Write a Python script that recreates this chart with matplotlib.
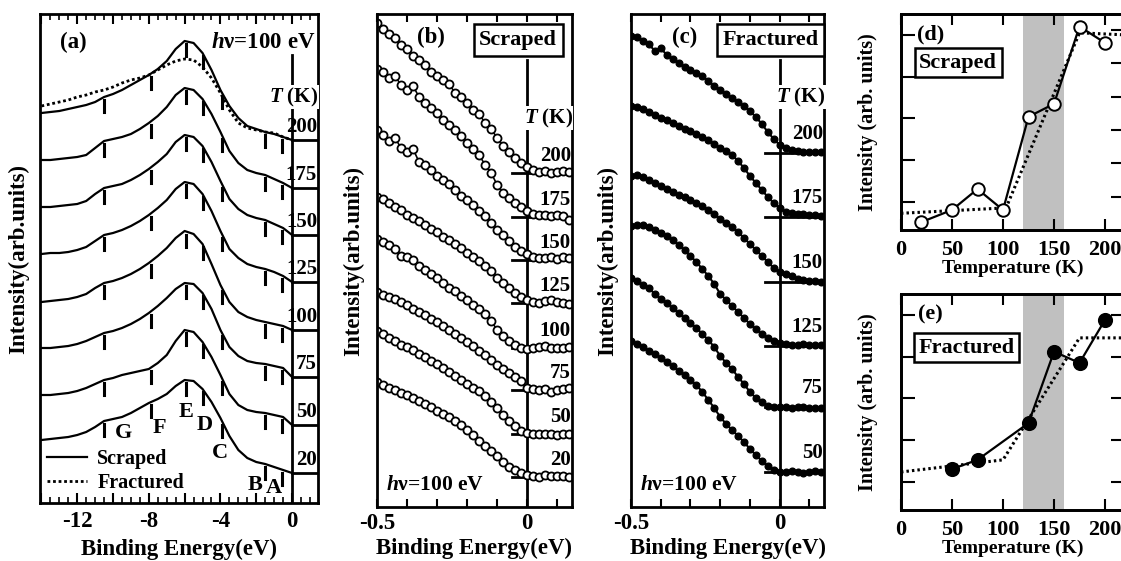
import numpy as np
import matplotlib
matplotlib.use('Agg')
import matplotlib.pyplot as plt
from matplotlib.ticker import FixedLocator, FuncFormatter, MultipleLocator

# ---------------- DATA ----------------
# Panel (a): valence-band spectra, heights above each baseline (arb. units)
E_a = np.linspace(-14.0, 0.0, 29)
temps_a = [200, 175, 150, 125, 100, 75, 50, 20]
offsets_a = [363, 315, 268, 221, 173, 126, 78, 30]
spec_a_200 = [27, 28, 29, 31, 33, 35, 38, 43, 46, 50, 55, 60, 65, 71, 79, 91, 99, 97, 87, 70, 50, 34, 22, 14, 11, 8, 6, 3, 0]
spec_a_175 = [28, 28, 29, 30, 31, 33, 40, 47, 49, 51, 54, 59, 65, 72, 81, 93, 100, 98, 89, 74, 56, 37, 25, 18, 15, 13, 9, 5, 0]
spec_a_150 = [28, 28, 29, 30, 31, 34, 41, 47, 49, 51, 55, 60, 66, 73, 81, 93, 100, 98, 89, 73, 54, 36, 26, 20, 17, 15, 11, 7, 0]
spec_a_125 = [28, 29, 29, 30, 32, 35, 41, 47, 49, 52, 56, 61, 67, 74, 82, 93, 100, 98, 88, 71, 51, 33, 24, 18, 15, 13, 10, 6, 0]
spec_a_100 = [28, 29, 30, 31, 33, 36, 42, 47, 49, 52, 56, 61, 67, 74, 82, 92, 99, 96, 86, 66, 45, 28, 18, 13, 10, 8, 6, 4, 0]
spec_a_75 = [29, 29, 30, 31, 33, 36, 40, 44, 46, 49, 53, 58, 64, 71, 79, 88, 94, 93, 84, 68, 47, 30, 21, 16, 14, 13, 11, 9, 0]
spec_a_50 = [30, 30, 31, 32, 34, 37, 41, 45, 47, 50, 52, 54, 56, 62, 70, 84, 95, 93, 83, 68, 50, 31, 20, 15, 13, 12, 10, 8, 0]
spec_a_20 = [33, 34, 35, 36, 38, 41, 46, 52, 54, 56, 60, 65, 70, 74, 79, 87, 93, 92, 84, 71, 55, 37, 23, 15, 11, 9, 6, 3, 0]
spec_a_fract = [34, 36, 38, 40, 43, 45, 48, 50, 53, 57, 60, 62, 65, 70, 75, 79, 81, 80, 73, 62, 47, 30, 17, 12, 10, 8, 7, 3, 0]
spectra_a = [spec_a_200, spec_a_175, spec_a_150, spec_a_125, spec_a_100, spec_a_75, spec_a_50, spec_a_20]
feat_labels = ['G', 'F', 'E', 'D', 'C', 'B', 'A']
feat_E = [-10.5, -7.9, -5.9, -5.0, -3.9, -1.5, -0.55]

# Panel (b): scraped, near-EF spectra
E_bc = np.linspace(-0.5, 0.14, 33)
temps_b = [200, 175, 150, 125, 100, 75, 50, 20]
offsets_b = [334, 290, 247, 204, 159, 117, 73, 30]
b_200 = [150, 144, 139, 135, 128, 124, 117, 113, 108, 101, 97, 93, 89, 80, 76, 70, 63, 59, 50, 44, 35, 27, 21, 15, 10, 6, 3, 1, 2, 0, 1, 2, 1]
b_175 = [148, 145, 139, 141, 132, 127, 131, 120, 114, 109, 104, 97, 92, 87, 81, 74, 68, 62, 52, 44, 32, 24, 19, 14, 10, 6, 3, 2, 2, 1, 2, 1, -3]
b_150 = [130, 125, 119, 122, 112, 108, 111, 98, 95, 90, 84, 80, 76, 70, 64, 60, 55, 49, 44, 37, 30, 25, 19, 13, 9, 6, 3, 2, 2, 3, 1, 3, 2]
b_125 = [106, 104, 100, 96, 93, 88, 85, 82, 78, 74, 71, 66, 63, 59, 55, 50, 46, 42, 37, 32, 25, 20, 15, 10, 6, 3, 1, 0, 2, 3, 1, 0, -1]
b_100 = [109, 106, 103, 99, 92, 91, 88, 82, 78, 74, 70, 65, 60, 57, 52, 48, 43, 39, 34, 27, 18, 12, 7, 3, 0, -1, 0, 1, 2, 0, 0, 0, 1]
b_75 = [98, 95, 93, 91, 88, 85, 81, 78, 75, 71, 68, 64, 60, 56, 52, 48, 44, 39, 35, 30, 25, 21, 17, 13, 9, 2, 1, 0, 1, -2, 0, 1, 2]
b_50 = [103, 100, 96, 93, 89, 87, 84, 80, 77, 73, 70, 66, 62, 58, 54, 50, 46, 43, 38, 32, 26, 19, 13, 8, 3, 1, 0, 0, 0, 0, -1, 0, 0]
b_20 = [95, 92, 89, 87, 84, 82, 79, 76, 73, 70, 66, 63, 60, 56, 52, 47, 42, 36, 31, 26, 21, 15, 10, 7, 4, 2, 1, 0, 2, 1, 1, 1, 0]
spectra_b = [b_200, b_175, b_150, b_125, b_100, b_75, b_50, b_20]

# Panel (c): fractured, near-EF spectra
temps_c = [200, 175, 150, 125, 75, 50]
offsets_c = [354, 290, 225, 161, 100, 35]
c_200 = [117, 116, 112, 109, 102, 105, 98, 94, 90, 86, 83, 80, 77, 72, 67, 63, 59, 55, 51, 47, 42, 36, 29, 21, 14, 8, 5, 3, 2, 1, 1, 1, 1]
c_175 = [111, 110, 108, 105, 102, 99, 97, 94, 91, 88, 86, 83, 80, 77, 73, 69, 66, 62, 56, 49, 41, 34, 27, 20, 14, 9, 5, 4, 3, 3, 2, 2, 1]
c_150 = [106, 107, 105, 102, 99, 96, 93, 90, 87, 85, 82, 79, 76, 72, 68, 63, 59, 55, 50, 44, 38, 32, 26, 20, 14, 10, 8, 6, 3, 2, 1, 1, 0]
c_125 = [120, 121, 121, 119, 116, 113, 110, 106, 101, 96, 90, 84, 77, 70, 62, 52, 46, 40, 34, 28, 22, 17, 12, 8, 5, 3, 2, 1, 1, 2, 1, 1, 1]
c_75 = [129, 126, 122, 119, 113, 108, 104, 99, 94, 89, 84, 79, 73, 67, 60, 51, 44, 38, 30, 23, 15, 9, 5, 1, 0, 0, 0, -1, 0, 0, -1, -1, -1]
c_50 = [131, 128, 125, 121, 118, 114, 110, 106, 101, 97, 92, 87, 80, 72, 64, 55, 48, 42, 36, 30, 23, 17, 11, 6, 2, 0, 0, 1, 0, -1, 0, 1, 0]
spectra_c = [c_200, c_175, c_150, c_125, c_75, c_50]

# Panel (d): scraped, intensity vs temperature
T_d = [20, 50, 75, 100, 125, 150, 175, 200]
I_d = [0.52, 0.81, 1.31, 0.81, 3.04, 3.35, 5.2, 4.81]
T_fit_d = [0, 103, 175, 220]
I_fit_d = [0.73, 0.86, 5.05, 5.0]

# Panel (e): fractured, intensity vs temperature
T_e = [50, 75, 125, 150, 175, 200]
I_e = [1.31, 1.53, 2.41, 4.12, 3.85, 4.88]
T_fit_e = [0, 100, 175, 220]
I_fit_e = [1.24, 1.53, 4.45, 4.45]

transition = (120, 160)

# ---------------- STYLE ----------------
plt.rcParams['font.family'] = ['Liberation Serif', 'DejaVu Serif']
plt.rcParams['font.weight'] = 'bold'
plt.rcParams['axes.labelweight'] = 'bold'
plt.rcParams['mathtext.fontset'] = 'custom'
plt.rcParams['mathtext.it'] = 'Liberation Serif:italic:bold'
plt.rcParams['mathtext.rm'] = 'Liberation Serif:bold'
plt.rcParams['axes.linewidth'] = 2.0
plt.rcParams['xtick.direction'] = 'in'
plt.rcParams['ytick.direction'] = 'in'

W, H = 1121, 561
fig = plt.figure(figsize=(W / 100, H / 100), dpi=100)


def rect(l, t, r, b):
    return [l / W, 1 - b / H, (r - l) / W, (b - t) / H]


FS = 16.5

# ---------------- PANEL (a) ----------------
axa = fig.add_axes(rect(40, 14, 318, 503))
axa.set_xlim(-14.08, 1.45)
axa.set_ylim(0, 489)
lines = []
for T, off, sp in zip(temps_a, offsets_a, spectra_a):
    sp = np.array(sp, float)
    ln, = axa.plot(E_a, sp + off, color='black', lw=1.6)
    lines.append(ln)
    hvals = np.interp(feat_E, E_a, sp)
    for e, h in zip(feat_E, hvals):
        axa.plot([e, e], [off + h - 15, off + h - 3], color='black', lw=2.2)
    axa.plot([0, 1.45], [off, off], color='black', lw=2.0)
    axa.text(1.4, off + 13, str(T), ha='right', va='center', fontsize=15)
fr, = axa.plot(E_a, np.array(spec_a_fract) + offsets_a[0], color='black', lw=2.0, ls=(0, (1, 1)))
axa.plot([0, 0], [0, 448], color='black', lw=2.0)
axa.text(0.1, 406, r'$\mathit{T}$ (K)', ha='center', va='center', fontsize=15,
         bbox=dict(facecolor='white', edgecolor='none', pad=0.5))
axa.text(-12.2, 461, '(a)', ha='center', va='center', fontsize=FS)
axa.text(1.3, 461, r'$\mathit{h}$ν=100 eV', ha='right', va='center', fontsize=FS)
# feature letters on lowest spectrum
letter_pos = {'G': (-9.4, 70), 'F': (-7.4, 75), 'E': (-5.9, 91), 'D': (-4.9, 78), 'C': (-4.05, 50),
              'B': (-2.05, 18), 'A': (-1.0, 15)}
for lab in feat_labels:
    x, y = letter_pos[lab]
    axa.text(x, y, lab, ha='center', va='center', fontsize=16)
axa.legend([lines[0], fr], ['Scraped', 'Fractured'], loc='lower left', bbox_to_anchor=(0.0, 0.006),
           frameon=False, fontsize=14.5, handlelength=2.0, handletextpad=0.5, labelspacing=0.2,
           borderaxespad=0.25, borderpad=0.1)
axa.xaxis.set_major_locator(FixedLocator([-14, -12, -10, -8, -6, -4, -2, 0]))
axa.xaxis.set_major_formatter(FuncFormatter(lambda v, p: '%d' % v if int(round(v)) % 4 == 0 and v > -13 else ''))
axa.xaxis.set_minor_locator(MultipleLocator(0.5))
axa.tick_params(axis='x', which='major', length=7, width=1.5, top=True, labelsize=FS, pad=6)
axa.tick_params(axis='x', which='minor', length=4, width=1.2, top=True)
axa.set_yticks([])
axa.set_xlabel('Binding Energy(eV)', fontsize=FS, labelpad=5)
axa.set_ylabel('Intensity(arb.units)', fontsize=FS, labelpad=8)


# ---------------- PANELS (b), (c) ----------------
def near_ef(ax, temps, offsets, spectra, filled, label, tag, tk_y, num_dy):
    ax.set_xlim(-0.5, 0.149)
    ax.set_ylim(0, 493)
    for T, off, sp in zip(temps, offsets, spectra):
        sp = np.array(sp, float)
        if filled:
            ax.plot(E_bc, sp + off, color='black', lw=1.5, marker='o', ms=4.8, mfc='black', mec='black')
        else:
            ax.plot(E_bc, sp + off, color='black', lw=1.2, marker='o', ms=5.8, mfc='white', mec='black', mew=1.3)
        ax.plot([-0.05, 0.149], [off, off], color='black', lw=2.0, zorder=1)
        ax.text(0.145, off + num_dy, str(T), ha='right', va='center', fontsize=15)
    ax.plot([0, 0], [0, 447], color='black', lw=2.0, zorder=1)
    ax.text(0.07, tk_y, r'$\mathit{T}$ (K)', ha='center', va='center', fontsize=15,
            bbox=dict(facecolor='white', edgecolor='none', pad=0.5))
    ax.text(-0.03, 467, label, ha='center', va='center', fontsize=16,
            bbox=dict(boxstyle='square,pad=0.25', facecolor='white', edgecolor='black', lw=1.8))
    ax.text(-0.32, 470, tag, ha='center', va='center', fontsize=FS)
    ax.text(-0.47, 22, r'$\mathit{h}$ν=100 eV', ha='left', va='center', fontsize=15.5)
    ax.xaxis.set_major_locator(FixedLocator([-0.5, -0.4, -0.3, -0.2, -0.1, 0.0, 0.1]))
    ax.xaxis.set_major_formatter(FuncFormatter(lambda v, p: {-0.5: '-0.5', 0.0: '0'}.get(round(v, 2), '')))
    ax.tick_params(axis='x', length=6, width=1.5, top=True, labelsize=FS, pad=4)
    ax.set_yticks([])
    ax.set_xlabel('Binding Energy(eV)', fontsize=FS, labelpad=3)
    ax.set_ylabel('Intensity(arb.units)', fontsize=FS, labelpad=9)


axb = fig.add_axes(rect(377, 14, 572, 507))
near_ef(axb, temps_b, offsets_b, spectra_b, False, 'Scraped', '(b)', 389, 17)
axc = fig.add_axes(rect(631, 14, 824, 507))
near_ef(axc, temps_c, offsets_c, spectra_c, True, 'Fractured', '(c)', 410, 19)


# ---------------- PANELS (d), (e) ----------------
def tdep(ax, T, I, Tf, If, filled, label, tag, right_lim, right_ticks, box_xy):
    ax.axvspan(*transition, color='#c0c0c0', lw=0, zorder=0)
    ax.plot(Tf, If, color='black', lw=2.2, ls=(0, (0.8, 1.0)), zorder=2)
    ax.plot(T, I, color='black', lw=1.6, marker='o', ms=9.5 if filled else 9,
            mfc='black' if filled else 'white', mec='black', mew=1.4, zorder=3)
    ax.set_xlim(0, 219.6)
    ax.set_ylim(0.33, 5.5)
    ax.set_xticks([0, 50, 100, 150, 200])
    ax.set_yticks([1, 2, 3, 4, 5])
    ax.set_yticklabels([])
    ax.tick_params(axis='x', length=8, width=1.5, top=True, labelsize=16, pad=7)
    ax.tick_params(axis='y', length=10, width=1.5)
    ax.set_xlabel('Temperature (K)', fontsize=14, labelpad=0)
    ax.set_ylabel('Intensity (arb. units)', fontsize=14.5, labelpad=13)
    ax.text(29, 5.0, tag, ha='center', va='center', fontsize=16)
    ax.text(box_xy[0], box_xy[1], label, ha='center', va='center', fontsize=16,
            bbox=dict(boxstyle='square,pad=0.2', facecolor='white', edgecolor='black', lw=1.8))
    tw = ax.twinx()
    tw.set_ylim(*right_lim)
    tw.set_yticks(right_ticks)
    tw.set_yticklabels([])
    tw.tick_params(axis='y', length=10, width=1.5, direction='in')


axd = fig.add_axes(rect(901, 14, 1125, 230))
tdep(axd, T_d, I_d, T_fit_d, I_fit_d, False, 'Scraped', '(d)', (0, 6.48), [1, 2, 3, 4, 5, 6], (56, 4.33))
axe = fig.add_axes(rect(901, 294, 1125, 510))
tdep(axe, T_e, I_e, T_fit_e, I_fit_e, True, 'Fractured', '(e)', (0.33, 5.5), [1, 2, 3, 4, 5], (64, 4.21))

fig.savefig('out.png', dpi=100)
